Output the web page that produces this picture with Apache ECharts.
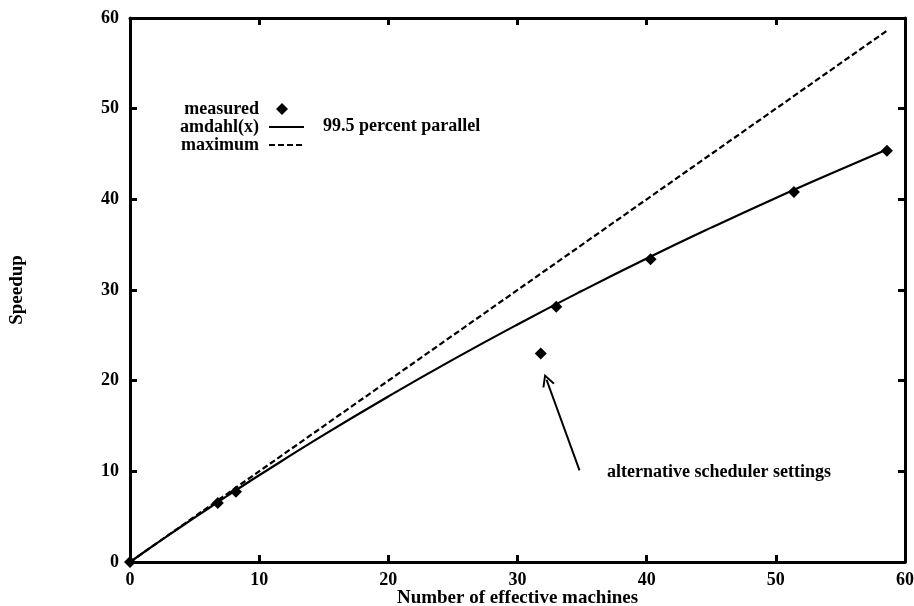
<!DOCTYPE html>
<html>
<head>
<meta charset="utf-8">
<script src="https://cdn.jsdelivr.net/npm/echarts@6/dist/echarts.min.js"></script>
<style>html,body{margin:0;padding:0;background:#fff}#c{width:914px;height:606px}</style>
</head>
<body>
<div id="c"></div>
<script>
// measured speedups
const measuredX = [0, 6.8, 8.2, 31.8, 33.0, 40.3, 51.4, 58.6];
const measuredY = [0, 6.5, 7.75, 23.0, 28.15, 33.4, 40.8, 45.35];
// amdahl(x) curve, 99.5 percent parallel
const amdahlX = [0, 2, 4, 6, 8, 10, 15, 20, 25, 30, 35, 40, 45, 50, 55, 58.6];
const amdahlY = [0, 1.99, 3.94, 5.85, 7.73, 9.57, 14.02, 18.26, 22.32, 26.2, 29.91, 33.47, 36.88, 40.16, 43.3, 45.5];
// maximum (linear) line
const maximumX = [0, 58.6];
const maximumY = [0, 58.6];
// annotation arrow (tail, head)
const arrowX = [34.8, 32.25];
const arrowY = [10.1, 20.1];
const xTicks = [0, 10, 20, 30, 40, 50, 60];
const yTicks = [0, 10, 20, 30, 40, 50, 60];

const FONT = 'Liberation Serif';
const zip = (a, b) => a.map((v, i) => [v, b[i]]);

const chart = echarts.init(document.getElementById('c'), null, {renderer: 'canvas'});
const axisCommon = {
  type: 'value', min: 0, max: 60, interval: 10,
  axisLine: {show: true, onZero: false, lineStyle: {color: '#000', width: 3}},
  axisTick: {show: true, inside: true, length: 7, lineStyle: {color: '#000', width: 3}},
  splitLine: {show: false}
};
const labelStyle = {color: '#000', fontFamily: FONT, fontWeight: 'bold', fontSize: 18};
const nameStyle = {color: '#000', fontFamily: FONT, fontWeight: 'bold', fontSize: 19};
const chevron = 'path://M0,12 L5,0 L10,12 L8.6,12.6 L5,4 L1.4,12.6 Z';
chart.setOption({
  animation: false,
  backgroundColor: '#fff',
  grid: {left: 130, right: 9, top: 18, bottom: 44, containLabel: false, outerBoundsMode: 'none'},
  xAxis: [
    Object.assign({}, axisCommon, {
      position: 'bottom',
      axisLabel: Object.assign({margin: 9, formatter: v => xTicks.includes(v) ? String(v) : ''}, labelStyle),
      name: 'Number of effective machines', nameLocation: 'middle', nameGap: 27,
      nameMoveOverlap: false,
      nameTextStyle: Object.assign({verticalAlign: 'top', lineHeight: 19}, nameStyle)
    }),
    Object.assign({}, axisCommon, {position: 'top', axisLabel: {show: false}})
  ],
  yAxis: [
    Object.assign({}, axisCommon, {
      position: 'left',
      axisLabel: Object.assign({margin: 11, formatter: v => yTicks.includes(v) ? String(v) : ''}, labelStyle),
      name: 'Speedup', nameLocation: 'middle', nameGap: 103, nameRotate: 90,
      nameMoveOverlap: false,
      nameTextStyle: nameStyle
    }),
    Object.assign({}, axisCommon, {position: 'right', axisLabel: {show: false}})
  ],
  series: [
    {
      name: 'maximum', type: 'line', data: zip(maximumX, maximumY),
      symbol: 'none', lineStyle: {color: '#000', width: 2.2, type: [6, 3]}, z: 2
    },
    {
      name: 'amdahl(x)', type: 'line', data: zip(amdahlX, amdahlY), smooth: true,
      symbol: 'none', lineStyle: {color: '#000', width: 2.2}, z: 3
    },
    {
      name: 'measured', type: 'scatter', data: zip(measuredX, measuredY),
      symbol: 'diamond', symbolSize: [12, 12], itemStyle: {color: '#000', opacity: 1}, z: 4,
      emphasis: {disabled: true},
      markLine: {
        silent: true, animation: false,
        symbol: ['none', chevron], symbolSize: 13,
        lineStyle: {color: '#000', width: 2, type: 'solid', opacity: 1},
        itemStyle: {color: '#000'},
        label: {show: false},
        emphasis: {disabled: true},
        data: [[{coord: [arrowX[0], arrowY[0]]}, {coord: [arrowX[1], arrowY[1]]}]]
      }
    }
  ],
  graphic: [
    {type: 'text', x: 259, y: 109, style: {text: 'measured', textAlign: 'right', textVerticalAlign: 'middle', font: 'bold 18px ' + FONT, fill: '#000'}},
    {type: 'text', x: 259, y: 127, style: {text: 'amdahl(x)', textAlign: 'right', textVerticalAlign: 'middle', font: 'bold 18px ' + FONT, fill: '#000'}},
    {type: 'text', x: 259, y: 145, style: {text: 'maximum', textAlign: 'right', textVerticalAlign: 'middle', font: 'bold 18px ' + FONT, fill: '#000'}},
    {type: 'polygon', shape: {points: [[282, 103], [288, 109], [282, 115], [276, 109]]}, style: {fill: '#000'}},
    {type: 'line', shape: {x1: 269, y1: 127, x2: 304, y2: 127}, style: {stroke: '#000', lineWidth: 2}},
    {type: 'line', shape: {x1: 269, y1: 145, x2: 304, y2: 145}, style: {stroke: '#000', lineWidth: 2, lineDash: [6, 3]}},
    {type: 'text', x: 323, y: 126, style: {text: '99.5 percent parallel', textAlign: 'left', textVerticalAlign: 'middle', font: 'bold 18px ' + FONT, fill: '#000'}},
    {type: 'text', x: 607, y: 472, style: {text: 'alternative scheduler settings', textAlign: 'left', textVerticalAlign: 'middle', font: 'bold 18px ' + FONT, fill: '#000'}}
  ]
});
</script>
</body>
</html>
